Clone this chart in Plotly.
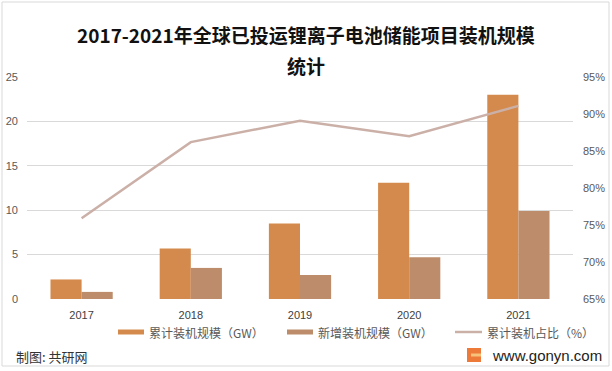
import plotly.graph_objects as go

years = ["2017", "2018", "2019", "2020", "2021"]
cum_gw = [2.2, 5.7, 8.5, 13.1, 23.0]
new_gw = [0.8, 3.5, 2.7, 4.7, 9.9]
cum_share = [75.9, 86.2, 89.1, 87.0, 91.1]

name_cum = "累计装机规模（GW）"
name_new = "新增装机规模（GW）"
name_share = "累计装机占比（%）"
title1 = "2017-2021年全球已投运锂离子电池储能项目装机规模"
title2 = "统计"
source = "制图: 共研网"
site = "www.gonyn.com"

C_CUM = "#D48A4C"
C_NEW = "#BC8C6B"
C_LINE = "#CBB0A8"

W, H = 612, 371
L, R, T, B = 27, 573, 77, 299
CJK = "Noto Sans CJK SC"
LAT = "Liberation Sans"


def px(x):
    return (x - L) / (R - L)


def py(y):
    return (B - y) / (B - T)


fig = go.Figure()
fig.add_trace(go.Bar(x=years, y=cum_gw, name=name_cum, marker_color=C_CUM,
                     marker_line_width=0, showlegend=False))
fig.add_trace(go.Bar(x=years, y=new_gw, name=name_new, marker_color=C_NEW,
                     marker_line_width=0, showlegend=False))
fig.add_trace(go.Scatter(x=years, y=cum_share, name=name_share, yaxis="y2",
                         mode="lines", line=dict(color=C_LINE, width=2.5),
                         showlegend=False))

shapes = []
annotations = []

# titles
annotations.append(dict(text=f"<b>{title1}</b>", x=px(306), y=py(35), xref="paper", yref="paper",
                         showarrow=False, xanchor="center", yanchor="middle",
                         font=dict(family=CJK, size=19, color="#111111")))
annotations.append(dict(text=f"<b>{title2}</b>", x=px(306), y=py(65), xref="paper", yref="paper",
                         showarrow=False, xanchor="center", yanchor="middle",
                         font=dict(family=CJK, size=19, color="#111111")))

# manual legend
legend_items = [
    (118, 147, C_CUM, "bar", name_cum),
    (287, 316, C_NEW, "bar", name_new),
    (455, 485, C_LINE, "line", name_share),
]
ly = 332
for sx, tx, col, kind, label in legend_items:
    if kind == "bar":
        shapes.append(dict(type="rect", xref="paper", yref="paper",
                           x0=px(sx), x1=px(sx + 26), y0=py(ly + 2.5), y1=py(ly - 2.5),
                           fillcolor=col, line=dict(width=0)))
    else:
        shapes.append(dict(type="line", xref="paper", yref="paper",
                           x0=px(sx), x1=px(sx + 27), y0=py(ly), y1=py(ly),
                           line=dict(color=col, width=2.5)))
    annotations.append(dict(text=label, x=px(tx), y=py(ly), xref="paper", yref="paper",
                            showarrow=False, xanchor="left", yanchor="middle",
                            font=dict(family=CJK, size=12, color="#595959")))

# footer
annotations.append(dict(text=source, x=px(14), y=py(356), xref="paper", yref="paper",
                        showarrow=False, xanchor="left", yanchor="middle",
                        font=dict(family=CJK, size=13, color="#333333")))
annotations.append(dict(text=site, x=px(604), y=py(355), xref="paper", yref="paper",
                        showarrow=False, xanchor="right", yanchor="middle",
                        font=dict(family=LAT, size=15, color="#222222")))
shapes.append(dict(type="rect", xref="paper", yref="paper",
                   x0=px(467), x1=px(481), y0=py(362), y1=py(348),
                   fillcolor="#EE7A3A", line=dict(width=0)))
shapes.append(dict(type="rect", xref="paper", yref="paper",
                   x0=px(471), x1=px(481), y0=py(356.5), y1=py(353.5),
                   fillcolor="#F7C27A", line=dict(width=0)))

# outer border
shapes.append(dict(type="rect", xref="paper", yref="paper",
                   x0=px(2), x1=px(609), y0=py(366), y1=py(2),
                   line=dict(color="#D9D9D9", width=1), fillcolor="rgba(0,0,0,0)"))

fig.update_layout(
    template="none",
    width=W, height=H,
    margin=dict(l=L, r=W - R, t=T, b=H - B, pad=0, autoexpand=False),
    paper_bgcolor="white", plot_bgcolor="white",
    barmode="group", bargap=0.43, bargroupgap=0,
    showlegend=False,
    font=dict(family=LAT, size=11, color="#595959"),
    xaxis=dict(type="category", automargin=False, showgrid=False, showline=False,
               zeroline=False, ticks="", color="#404040",
               tickfont=dict(family=LAT, size=11, color="#404040"),
               ticklabelstandoff=8),
    yaxis=dict(range=[0, 25], tickvals=[0, 5, 10, 15, 20, 25], automargin=False,
               showgrid=True, gridcolor="#D9D9D9", gridwidth=1, zeroline=False,
               showline=False, ticks="", ticklabelstandoff=8, color="#595959",
               tickfont=dict(family=LAT, size=11, color="#595959")),
    yaxis2=dict(range=[65, 95], tickvals=[65, 70, 75, 80, 85, 90, 95],
                ticktext=[f"{v}%" for v in [65, 70, 75, 80, 85, 90, 95]],
                overlaying="y", side="right", automargin=False, showgrid=False,
                zeroline=False, showline=False, ticks="", ticklabelstandoff=9,
                color="#595959",
                tickfont=dict(family=LAT, size=11, color="#595959")),
    shapes=shapes,
    annotations=annotations,
)

fig.write_html("out.html", config={"displayModeBar": False},
               post_script="document.body.style.margin='0px';document.body.style.overflow='hidden';")
